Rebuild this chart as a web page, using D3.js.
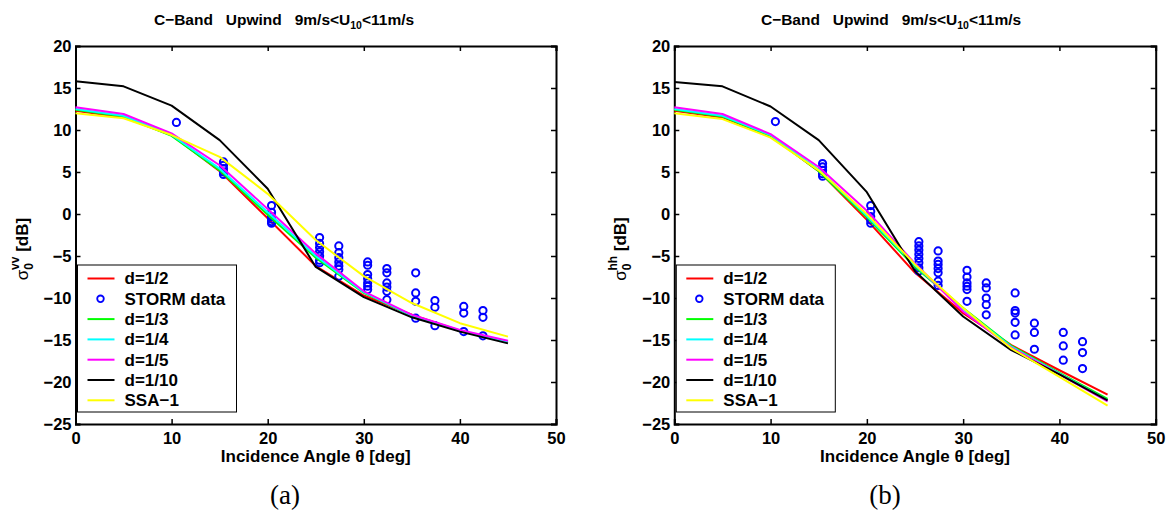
<!DOCTYPE html>
<html>
<head>
<meta charset="utf-8">
<script src="https://cdn.jsdelivr.net/npm/d3@7"></script>
<style>
  html, body { margin: 0; padding: 0; background: #fff; }
  svg text { font-family: "Liberation Sans", Arial, Helvetica, sans-serif; }
  svg text.serif { font-family: "Liberation Serif", "Times New Roman", serif; }
</style>
</head>
<body>
<svg id="chart" width="1173" height="514"></svg>
<script>
// ---------- data ----------
const angles = [0, 5, 10, 15, 20, 25, 30, 35, 40, 45];
const xTicks = [0, 10, 20, 30, 40, 50];
const yTicks = [20, 15, 10, 5, 0, -5, -10, -15, -20, -25];
const legendLabels = ["d=1/2", "STORM data", "d=1/3", "d=1/4", "d=1/5", "d=1/10", "SSA\u22121"];

// VV polarisation (panel a)
const vvD2   = [12.3, 11.5, 9.4, 5.1, -0.5, -6.2, -9.7, -12.0, -13.9, -15.2];
const vvD3   = [12.4, 11.6, 9.3, 5.2, -0.1, -5.2, -9.4, -12.1, -13.9, -15.2];
const vvD4   = [12.5, 11.7, 9.4, 5.4, 0.2, -5.0, -9.3, -12.1, -13.9, -15.2];
const vvD5   = [12.7, 11.9, 9.6, 5.8, 0.6, -4.7, -9.2, -12.0, -13.8, -15.1];
const vvD10  = [15.8, 15.2, 12.9, 8.8, 3.0, -6.3, -9.9, -12.3, -14.0, -15.4];
const vvSSA  = [12.0, 11.4, 9.4, 6.8, 2.4, -3.1, -7.4, -10.6, -13.0, -14.6];
const vvStormAngle = [10.5,
  15.4, 15.4, 15.4, 15.4, 15.4,
  20.4, 20.4, 20.4, 20.4, 20.4, 20.4,
  25.4, 25.4, 25.4, 25.4, 25.4, 25.4, 25.4,
  27.4, 27.4, 27.4, 27.4, 27.4, 27.4, 27.4,
  30.4, 30.4, 30.4, 30.4, 30.4, 30.4, 30.4,
  32.4, 32.4, 32.4, 32.4, 32.4, 32.4,
  35.4, 35.4, 35.4, 35.4,
  37.4, 37.4, 37.4,
  40.4, 40.4, 40.4,
  42.4, 42.4, 42.4];
const vvStormValue = [10.9,
  6.2, 5.8, 5.4, 5.0, 4.7,
  1.0, 0.2, -0.3, -0.6, -0.9, -1.1,
  -2.8, -3.5, -4.0, -4.5, -5.0, -5.5, -5.8,
  -3.8, -4.6, -5.2, -5.7, -6.2, -6.6, -7.4,
  -5.7, -6.1, -7.2, -7.7, -8.2, -8.6, -9.0,
  -6.5, -7.0, -8.2, -8.7, -9.2, -10.2,
  -7.0, -9.4, -10.4, -12.4,
  -10.3, -11.1, -13.3,
  -11.0, -11.8, -14.0,
  -11.5, -12.3, -14.5];

// HH polarisation (panel b)
const hhD2   = [12.3, 11.5, 9.3, 5.1, -0.7, -7.0, -11.8, -15.6, -18.6, -21.5];
const hhD3   = [12.4, 11.6, 9.3, 5.1, -0.4, -6.3, -11.2, -15.7, -18.9, -22.0];
const hhD4   = [12.5, 11.7, 9.4, 5.3, -0.2, -6.1, -11.3, -15.8, -19.0, -22.2];
const hhD5   = [12.7, 11.9, 9.5, 5.6, 0.4, -5.9, -11.6, -15.9, -19.1, -22.3];
const hhD10  = [15.7, 15.2, 12.8, 8.8, 2.6, -6.8, -12.2, -16.2, -19.1, -22.2];
const hhSSA  = [12.0, 11.3, 9.1, 5.2, 0.0, -6.0, -11.2, -16.0, -19.4, -22.8];
const hhStormAngle = [10.5,
  15.4, 15.4, 15.4, 15.4, 15.4,
  20.4, 20.4, 20.4, 20.4, 20.4,
  25.4, 25.4, 25.4, 25.4, 25.4, 25.4, 25.4, 25.4,
  27.4, 27.4, 27.4, 27.4, 27.4, 27.4, 27.4,
  30.4, 30.4, 30.4, 30.4, 30.4, 30.4,
  32.4, 32.4, 32.4, 32.4, 32.4,
  35.4, 35.4, 35.4, 35.4, 35.4,
  37.4, 37.4, 37.4,
  40.4, 40.4, 40.4,
  42.4, 42.4, 42.4];
const hhStormValue = [11.0,
  6.0, 5.6, 5.2, 4.8, 4.5,
  1.0, 0.3, -0.3, -0.7, -1.1,
  -3.3, -3.8, -4.3, -4.8, -5.3, -5.8, -6.4, -6.8,
  -4.4, -5.6, -6.0, -6.5, -7.0, -8.0, -8.5,
  -6.7, -7.5, -8.2, -8.6, -9.0, -10.4,
  -8.2, -8.8, -10.0, -10.8, -12.0,
  -9.4, -11.5, -11.8, -12.9, -14.4,
  -13.0, -14.1, -16.1,
  -14.1, -15.7, -17.4,
  -15.2, -16.5, -18.4];

// ---------- drawing ----------
const svg = d3.select("#chart");
const colors = {d2: "#ff0000", storm: "#0000ff", d3: "#00ff00", d4: "#00ffff", d5: "#ff00ff", d10: "#000000", ssa: "#ffff00"};

function drawPanel(opt) {
  const x = d3.scaleLinear().domain([0, 50]).range([opt.left, opt.right]);
  const y = d3.scaleLinear().domain([-25, 20]).range([424, 46]);
  const g = svg.append("g");

  // axes (box style, inward ticks)
  const axB = d3.axisBottom(x).tickValues(xTicks).tickSize(-5).tickPadding(8).tickFormat(d3.format("d"));
  const axT = d3.axisTop(x).tickValues(xTicks).tickSize(-5).tickFormat("");
  const axL = d3.axisLeft(y).tickValues(yTicks).tickSize(-5).tickPadding(4).tickFormat(d => d < 0 ? "\u2212" + Math.abs(d) : d);
  const axR = d3.axisRight(y).tickValues(yTicks).tickSize(-5).tickFormat("");

  [[axB, `translate(0,${y(-25)})`], [axT, `translate(0,${y(20)})`],
   [axL, `translate(${x(0)},0)`], [axR, `translate(${x(50)},0)`]].forEach(([ax, tr]) => {
    const a = g.append("g").attr("transform", tr).call(ax);
    a.select(".domain").attr("stroke", "#000").attr("stroke-width", 2);
    a.selectAll(".tick line").attr("stroke", "#000").attr("stroke-width", 1.5);
    a.selectAll(".tick text").attr("fill", "#000").attr("font-size", 16.5).attr("font-weight", "bold");
  });

  const line = d3.line().x((d, i) => x(angles[i])).y(d => y(d));
  const series = [
    {k: "d2", v: opt.d2}, {k: "storm"}, {k: "d3", v: opt.d3}, {k: "d4", v: opt.d4},
    {k: "d5", v: opt.d5}, {k: "d10", v: opt.d10}, {k: "ssa", v: opt.ssa}
  ];
  series.forEach(s => {
    if (s.k === "storm") {
      g.append("g").selectAll("circle").data(opt.stormV).join("circle")
        .attr("cx", (d, i) => x(opt.stormA[i])).attr("cy", d => y(d)).attr("r", 3.6)
        .attr("fill", "none").attr("stroke", colors.storm).attr("stroke-width", 2);
    } else {
      g.append("path").datum(s.v).attr("d", line).attr("fill", "none")
        .attr("stroke", colors[s.k]).attr("stroke-width", 2).attr("stroke-linejoin", "round");
    }
  });

  // legend
  const lx = x(0) + 2, ly = 265, lw = 159, lh = 147;
  const lg = g.append("g");
  lg.append("rect").attr("x", lx).attr("y", ly).attr("width", lw).attr("height", lh)
    .attr("fill", "#fff").attr("stroke", "#000").attr("stroke-width", 1);
  legendLabels.forEach((lab, i) => {
    const cy = ly + 13.5 + i * 20.3;
    const k = series[i].k;
    if (k === "storm") {
      lg.append("circle").attr("cx", lx + 23).attr("cy", cy).attr("r", 3.3)
        .attr("fill", "none").attr("stroke", colors.storm).attr("stroke-width", 1.8);
    } else {
      lg.append("line").attr("x1", lx + 10).attr("x2", lx + 37).attr("y1", cy).attr("y2", cy)
        .attr("stroke", colors[k]).attr("stroke-width", 2);
    }
    lg.append("text").attr("x", lx + 47).attr("y", cy + 5.8).attr("font-size", 17)
      .attr("font-weight", "bold").text(lab);
  });

  // title
  const t = g.append("text").attr("x", opt.titleX).attr("y", 25).attr("text-anchor", "middle")
    .attr("font-size", 15.5).attr("font-weight", "bold").style("white-space", "pre");
  t.append("tspan").text("C\u2212Band   Upwind   9m/s<U");
  t.append("tspan").attr("font-size", 10.5).attr("dy", 4).text("10");
  t.append("tspan").attr("dy", -4).text("<11m/s");

  // x label
  g.append("text").attr("x", (x(0) + x(50)) / 2).attr("y", 462).attr("text-anchor", "middle")
    .attr("font-size", 17).attr("font-weight", "bold").text("Incidence Angle \u03b8 [deg]");

  // y label
  const yl = g.append("text").attr("transform", `translate(${opt.left - 48},${(y(20) + y(-25)) / 2 + 14}) rotate(-90)`)
    .attr("text-anchor", "middle").attr("font-size", 17).attr("font-weight", "bold");
  yl.append("tspan").attr("font-weight", "normal").text("\u03c3");
  yl.append("tspan").attr("font-size", 12).attr("dy", 5).text("0");
  yl.append("tspan").attr("font-size", 12).attr("dy", -14).attr("dx", -7).text(opt.pol);
  yl.append("tspan").attr("dy", 9).text(" [dB]");

  // panel letter
  svg.append("text").attr("class", "serif").attr("x", opt.letterX).attr("y", 504).attr("text-anchor", "middle")
    .attr("font-size", 27).text(opt.letter);
}

drawPanel({left: 75.5, right: 556, d2: vvD2, d3: vvD3, d4: vvD4, d5: vvD5, d10: vvD10, ssa: vvSSA,
  stormA: vvStormAngle, stormV: vvStormValue, pol: "vv", titleX: 284, letterX: 285, letter: "(a)"});
drawPanel({left: 674.3, right: 1155.7, d2: hhD2, d3: hhD3, d4: hhD4, d5: hhD5, d10: hhD10, ssa: hhSSA,
  stormA: hhStormAngle, stormV: hhStormValue, pol: "hh", titleX: 891, letterX: 885, letter: "(b)"});
</script>
</body>
</html>
